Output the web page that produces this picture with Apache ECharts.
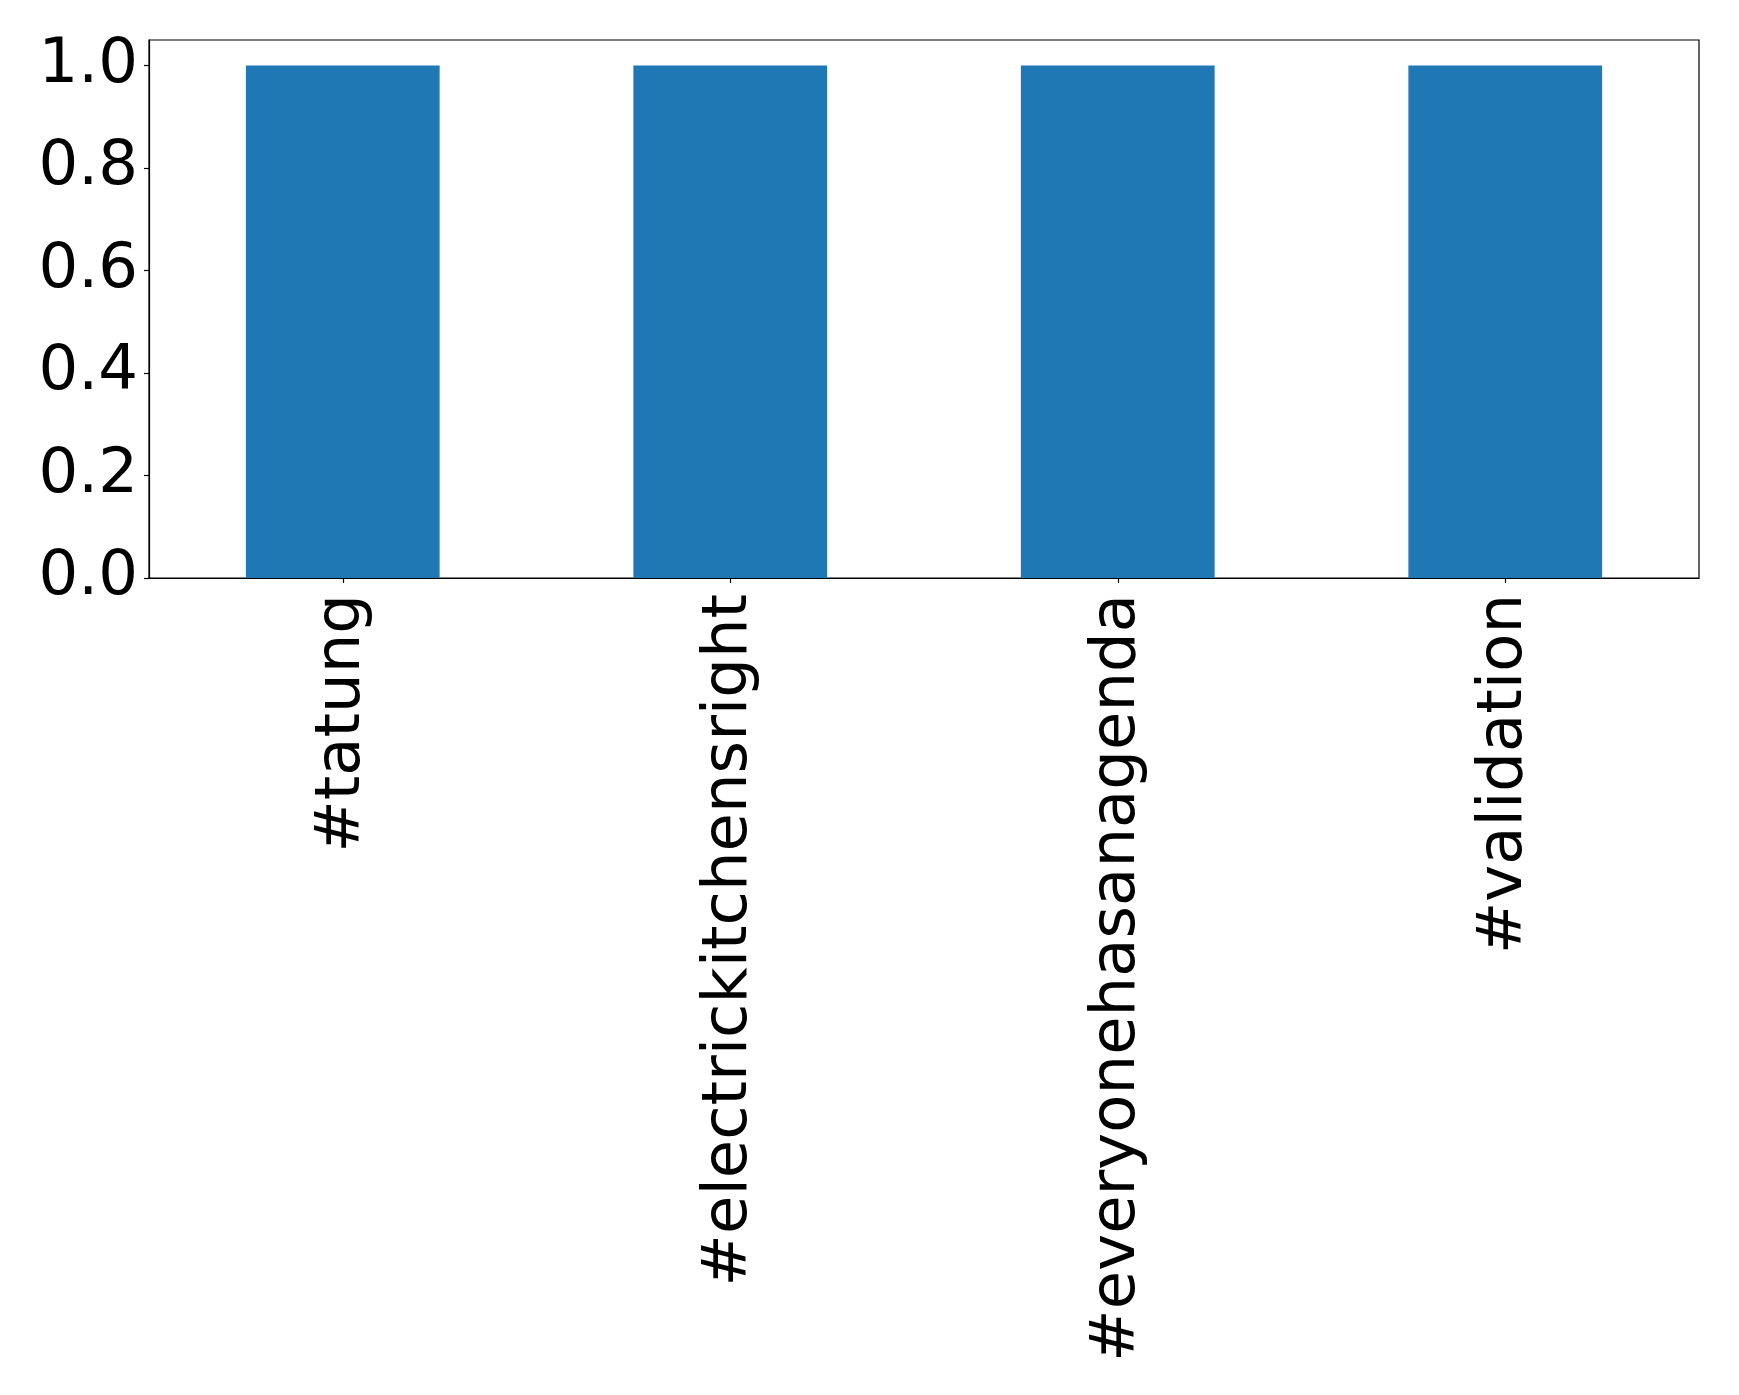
<!DOCTYPE html>
<html>
<head>
<meta charset="utf-8">
<script src="https://cdn.jsdelivr.net/npm/echarts@6/dist/echarts.min.js"></script>
<style>
html,body{margin:0;padding:0;background:#fff;}
#chart{width:1739px;height:1395px;}
</style>
</head>
<body>
<div id="chart"></div>
<script>
const categories = ['#tatung', '#electrickitchensright', '#everyonehasanagenda', '#validation'];
const values = [1, 1, 1, 1];
const yTicks = [0, 0.2, 0.4, 0.6, 0.8, 1.0];

const chart = echarts.init(document.getElementById('chart'), null, {renderer: 'canvas'});
const font = 'DejaVu Sans';
chart.setOption({
  animation: false,
  backgroundColor: '#ffffff',
  grid: {
    left: 149, right: 40, top: 40, bottom: 817,
    show: true, borderColor: '#000', borderWidth: 1.2, backgroundColor: 'transparent'
  },
  xAxis: {
    type: 'category',
    data: categories,
    boundaryGap: true,
    axisLine: {show: true, lineStyle: {color: '#000', width: 1.2}},
    axisTick: {show: true, alignWithLabel: true, length: 5, lineStyle: {color: '#000', width: 1.2}},
    axisLabel: {
      rotate: 90, interval: 0, margin: 16,
      padding: [18, 0, 0, 0],
      fontFamily: font, fontSize: 62.5, color: '#000'
    },
    splitLine: {show: false}
  },
  yAxis: {
    type: 'value',
    min: 0, max: 1.05, interval: 0.2,
    axisLine: {show: true, lineStyle: {color: '#000', width: 1.2}},
    axisTick: {show: true, length: 5, lineStyle: {color: '#000', width: 1.2}, customValues: yTicks},
    axisLabel: {
      margin: 11, fontFamily: font, fontSize: 62.5, color: '#000',
      customValues: yTicks,
      formatter: v => v.toFixed(1)
    },
    splitLine: {show: false}
  },
  series: [{
    type: 'bar',
    data: values,
    barWidth: '50%',
    itemStyle: {color: '#1f77b4'}
  }]
});
</script>
</body>
</html>
